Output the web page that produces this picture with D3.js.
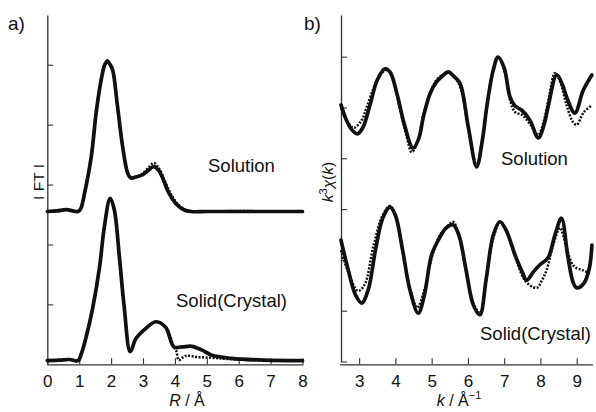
<!DOCTYPE html>
<html><head><meta charset="utf-8">
<script src="https://cdn.jsdelivr.net/npm/d3@7"></script>
<style>
html,body{margin:0;padding:0;background:#fff;}
svg text{font-family:"Liberation Sans",Arial,Helvetica,sans-serif;fill:#111;}
</style></head>
<body>
<svg id="c" width="596" height="412"></svg>
<script>
// ---------- Panel a: |FT| vs R ----------
const rTicks = [0,1,2,3,4,5,6,7,8];
const ftTicks = [1,2,3,4,5];
const solOffsetA = 2.55, cryOffsetA = 0.06;

const rSolFit = [0,0.3,0.6,0.8,0.96,1.05,1.17,1.38,1.53,1.69,1.80,1.88,1.97,2.05,2.20,2.36,2.52,2.62,2.80,2.98,3.15,3.34,3.50,3.60,3.81,4.02,4.28,4.5,5,6,7,8];
const ftSolFit = [0,0.01,0.03,0.01,0,0.05,0.31,0.92,1.64,2.20,2.45,2.51,2.45,2.36,1.76,1.09,0.64,0.56,0.58,0.61,0.68,0.75,0.68,0.58,0.31,0.14,0.03,0,0,0,0,0];
const rSolObs = [0,0.3,0.6,0.8,0.96,1.05,1.17,1.38,1.53,1.69,1.80,1.88,1.97,2.05,2.20,2.36,2.52,2.62,2.80,2.98,3.15,3.34,3.50,3.60,3.81,4.02,4.28,4.5,5,6,7,8];
const ftSolObs = [0,0.01,0.03,0.01,0,0.05,0.33,0.95,1.66,2.22,2.46,2.52,2.46,2.35,1.75,1.08,0.63,0.56,0.58,0.63,0.72,0.81,0.72,0.62,0.36,0.17,0.04,0.01,0,0.01,0,0];

const rCryFit = [0,0.4,0.7,0.96,1.07,1.22,1.43,1.64,1.79,1.97,2.10,2.26,2.41,2.60,2.78,3.09,3.40,3.71,3.97,4.22,4.53,4.84,5.16,5.78,6.8,8];
const ftCryFit = [0,0.01,0.02,0,0.12,0.40,0.90,1.57,2.24,2.71,2.52,1.73,0.90,0.15,0.37,0.54,0.65,0.56,0.23,0.23,0.24,0.18,0.09,0.04,0.01,0];
const rCryObs = [0,0.4,0.7,0.96,1.07,1.22,1.43,1.64,1.79,1.97,2.10,2.26,2.41,2.60,2.78,3.09,3.40,3.71,3.97,4.05,4.12,4.33,4.74,5.16,5.6,6.5,8];
const ftCryObs = [0,0.01,0.02,0,0.12,0.40,0.90,1.57,2.24,2.71,2.52,1.73,0.90,0.15,0.37,0.54,0.65,0.56,0.23,0.15,0.01,0.08,0.06,0.05,0.03,0.01,0];

// ---------- Panel b: k^3 chi(k) vs k ----------
const kTicks = [3,4,5,6,7,8,9];
const chiTicks = [0,1,2,3,4,5,6];
const solOffsetB = 5, cryOffsetB = 2;

const kSolFit = [2.50,2.65,2.80,2.95,3.10,3.30,3.50,3.71,3.85,4.05,4.25,4.49,4.65,4.77,4.96,5.13,5.30,5.46,5.60,5.78,6.01,6.24,6.40,6.52,6.70,6.83,7.00,7.16,7.30,7.48,7.71,7.94,8.10,8.21,8.45,8.60,8.72,8.95,9.18,9.42];
const chiSolFit = [0.05,-0.25,-0.44,-0.52,-0.40,0.05,0.54,0.76,0.70,0.25,-0.34,-0.80,-0.60,-0.19,0.28,0.50,0.62,0.70,0.62,0.48,-0.38,-1.17,-0.64,0.01,0.74,0.99,0.78,0.21,0.03,-0.05,-0.25,-0.60,-0.34,0.01,0.64,0.46,0.21,-0.11,0.34,0.64];
const kSolObs = [2.50,2.65,2.85,3.07,3.20,3.40,3.60,3.78,3.92,4.10,4.30,4.45,4.60,4.77,4.96,5.13,5.30,5.50,5.65,5.80,6.01,6.24,6.40,6.55,6.70,6.85,7.00,7.16,7.30,7.50,7.71,7.94,8.10,8.25,8.40,8.55,8.72,8.90,9.00,9.20,9.40];
const chiSolObs = [-0.01,-0.25,-0.40,-0.25,-0.01,0.38,0.66,0.74,0.62,0.05,-0.54,-0.88,-0.70,-0.15,0.28,0.54,0.64,0.68,0.58,0.38,-0.40,-1.13,-0.60,0.15,0.74,0.99,0.74,0.15,-0.09,-0.15,-0.32,-0.54,-0.25,0.25,0.68,0.50,0.05,-0.29,-0.34,-0.09,0.03];

const kCryFit = [2.50,2.70,2.90,3.07,3.25,3.45,3.65,3.85,4.00,4.20,4.40,4.63,4.80,5.00,5.23,5.40,5.59,5.75,5.95,6.15,6.33,6.50,6.70,6.88,7.05,7.30,7.50,7.62,7.80,7.98,8.21,8.40,8.58,8.75,8.90,9.00,9.20,9.35,9.42];
const chiCryFit = [0.39,-0.20,-0.69,-0.85,-0.59,0.19,0.82,1.04,0.88,0.19,-0.59,-1.05,-0.69,0.10,0.45,0.63,0.69,0.49,-0.20,-0.89,-1.08,-0.40,0.49,0.75,0.59,0.10,-0.24,-0.40,-0.24,-0.10,0.04,0.49,0.82,0.10,-0.44,-0.55,-0.46,-0.16,0.29];
const kCryObs = [2.50,2.70,2.97,3.15,3.40,3.65,3.85,4.00,4.20,4.40,4.60,4.80,5.00,5.23,5.40,5.59,5.75,5.95,6.15,6.33,6.50,6.70,6.90,7.10,7.35,7.60,7.90,8.05,8.17,8.35,8.54,8.70,8.85,8.95,9.15,9.35];
const chiCryObs = [0.19,-0.24,-0.61,-0.49,0.29,0.88,1.06,0.88,0.16,-0.55,-0.94,-0.59,0.04,0.49,0.63,0.75,0.49,-0.24,-0.85,-1.04,-0.40,0.43,0.75,0.49,-0.04,-0.43,-0.55,-0.39,-0.20,0.29,0.63,0.29,-0.04,-0.14,-0.20,-0.26];

// ---------- drawing ----------
const svg = d3.select("#c");
const INK = "#111", AX = "#333";

const xA = d3.scaleLinear().domain([0,8]).range([47.3,302.5]);
const yA = d3.scaleLinear().domain([0,5.83]).range([364.3,15]);
const xB = d3.scaleLinear().domain([2.5,9.45]).range([341,593]);
const yB = d3.scaleLinear().domain([0,6.82]).range([361.5,15]);

function zip(xs, ys, off){ return xs.map((x,i)=>[x, ys[i]+off]); }

function drawCurves(g, xs, ys, data){
  const line = d3.line().x(d=>xs(d[0])).y(d=>ys(d[1])).curve(d3.curveCatmullRom.alpha(0.5));
  data.forEach(s=>{
    g.append("path").attr("d", line(s.pts)).attr("fill","none")
      .attr("stroke", INK)
      .attr("stroke-width", s.dotted ? 2.5 : 3.7)
      .attr("stroke-dasharray", s.dotted ? "2,1.5" : null)
      .attr("stroke-linejoin","round")
      .attr("stroke-linecap", s.dotted ? "butt" : "round");
  });
}

function styleAxis(g){
  g.selectAll("path.domain").attr("stroke", AX).attr("stroke-width",1.3);
  g.selectAll(".tick line").attr("stroke", AX).attr("stroke-width",1.1);
}

// Panel a axes
const gA = svg.append("g");
const axA_x = gA.append("g").attr("transform","translate(0,364.3)")
  .call(d3.axisBottom(xA).tickValues(rTicks).tickSize(-6).tickSizeOuter(0).tickPadding(11).tickFormat(d3.format("d")));
axA_x.select("path.domain").attr("d", "M47.3,0.5H303.5");
axA_x.selectAll(".tick text").attr("font-size",17).attr("font-family","Liberation Sans, Arial, sans-serif").attr("fill",INK);
styleAxis(axA_x);
const axA_y = gA.append("g").attr("transform","translate(47.3,0)")
  .call(d3.axisLeft(yA).tickValues(ftTicks).tickSize(-6).tickSizeOuter(0).tickFormat(""));
styleAxis(axA_y);

drawCurves(gA, xA, yA, [
  {pts: zip(rSolFit, ftSolFit, solOffsetA), dotted:false},
  {pts: zip(rSolObs, ftSolObs, solOffsetA), dotted:true},
  {pts: zip(rCryFit, ftCryFit, cryOffsetA), dotted:false},
  {pts: zip(rCryObs, ftCryObs, cryOffsetA), dotted:true}
]);

// Panel b axes
const gB = svg.append("g");
const axB_x = gB.append("g").attr("transform","translate(0,364.3)")
  .call(d3.axisBottom(xB).tickValues(kTicks).tickSize(-6).tickSizeOuter(0).tickPadding(11).tickFormat(d3.format("d")));
axB_x.select("path.domain").attr("d", "M340,0.5H593");
axB_x.selectAll(".tick text").attr("font-size",17).attr("font-family","Liberation Sans, Arial, sans-serif").attr("fill",INK);
styleAxis(axB_x);
const axB_y = gB.append("g").attr("transform","translate(341,0)")
  .call(d3.axisLeft(yB).tickValues(chiTicks).tickSize(-6).tickSizeOuter(0).tickFormat(""));
styleAxis(axB_y);

drawCurves(gB, xB, yB, [
  {pts: zip(kSolFit, chiSolFit, solOffsetB), dotted:false},
  {pts: zip(kSolObs, chiSolObs, solOffsetB), dotted:true},
  {pts: zip(kCryFit, chiCryFit, cryOffsetB), dotted:false},
  {pts: zip(kCryObs, chiCryObs, cryOffsetB), dotted:true}
]);

// Texts
svg.append("text").attr("x",8).attr("y",30).attr("font-size",19).text("a)");
svg.append("text").attr("x",304).attr("y",30).attr("font-size",19).text("b)");

svg.append("text").attr("x",208).attr("y",172).attr("font-size",18.5).text("Solution");
svg.append("text").attr("x",176).attr("y",307).attr("font-size",18.5).text("Solid(Crystal)");
svg.append("text").attr("x",501).attr("y",165).attr("font-size",18.5).text("Solution");
svg.append("text").attr("x",480).attr("y",340).attr("font-size",18.5).text("Solid(Crystal)");

svg.append("text").attr("transform","translate(44,182) rotate(-90)")
  .attr("text-anchor","middle").attr("font-size",15.5).text("I FT I");

const tR = svg.append("text").attr("x",187).attr("y",406).attr("text-anchor","middle").attr("font-size",16);
tR.append("tspan").attr("font-style","italic").text("R");
tR.append("tspan").text(" / Å");

const tK = svg.append("text").attr("x",459).attr("y",406).attr("text-anchor","middle").attr("font-size",16);
tK.append("tspan").attr("font-style","italic").text("k");
tK.append("tspan").text(" / Å");
tK.append("tspan").attr("font-size",11).attr("dy",-7).text("−1");

const tC = svg.append("text").attr("transform","translate(333,182) rotate(-90)")
  .attr("text-anchor","middle").attr("font-size",15.5);
tC.append("tspan").attr("font-style","italic").text("k");
tC.append("tspan").attr("font-size",11).attr("dy",-6).text("3");
tC.append("tspan").attr("font-style","italic").attr("dy",6).text("χ");
tC.append("tspan").text("(");
tC.append("tspan").attr("font-style","italic").text("k");
tC.append("tspan").text(")");
</script>
</body></html>
